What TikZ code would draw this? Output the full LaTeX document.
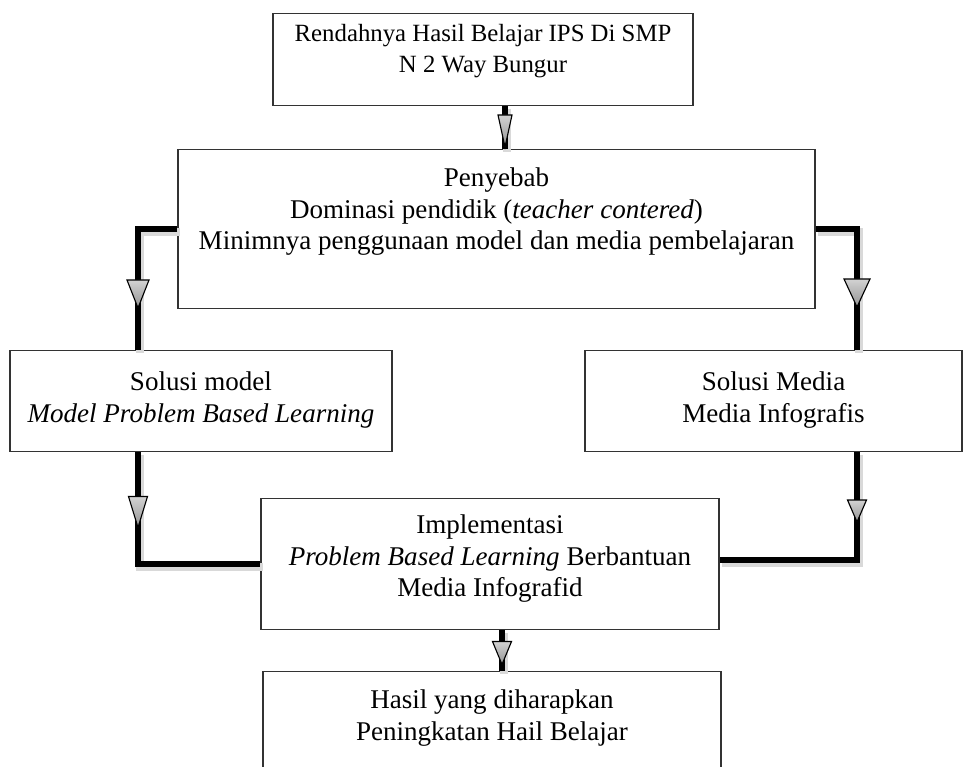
\documentclass[tikz,border=0pt]{standalone}
\usepackage{fontspec}
\setmainfont{Liberation Serif}
\newlength\px
\setlength\px{0.0156cm}
\newcommand\boxtext[4]{\parbox[t][#2\px][t]{#1\px}{\centering\vspace*{#3\px}\strut #4}}

\begin{document}
\begin{tikzpicture}[x=0.0156cm,y=-0.0156cm,font=\fontsize{12}{14}\selectfont,
  box/.style={draw=black!80,line width=0.6pt,inner sep=0pt,anchor=north},
  conn/.style={line width=2.6pt,black,
    preaction={draw=black!15,line width=3.6pt,transform canvas={shift={(1pt,-1.2pt)}}}},
  pics/headtri/.style 2 args={code={
    \draw[line width=0.5pt,top color=gray!35,bottom color=gray!85]
      (-#1/2,-#2/2) -- (#1/2,-#2/2) -- (0,#2/2) -- cycle;}}]
  \useasboundingbox (0,0) rectangle (968,767);
  \clip (0,0) rectangle (968,767);

  \node[box,font=\fontsize{11}{13.5}\selectfont] (b1) at (483,13) {\boxtext{420}{92}{7}{Rendahnya Hasil Belajar IPS Di SMP\\N 2 Way Bungur}};
  \node[box] (b2) at (496.5,149) {\boxtext{637}{159}{15}{Penyebab\\Dominasi pendidik (\textit{teacher contered})\\Minimnya penggunaan model dan media pembelajaran}};
  \node[box] (b3) at (201,350) {\boxtext{382}{101}{18}{Solusi model\\\textit{Model Problem Based Learning}}};
  \node[box] (b4) at (773.5,350) {\boxtext{377}{101}{18}{Solusi Media\\Media Infografis}};
  \node[box] (b5) at (490,498) {\boxtext{458}{131}{13}{Implementasi\\\textit{Problem Based Learning} Berbantuan\\Media Infografid}};
  \node[box] (b6) at (492,671) {\boxtext{458}{130}{15}{Hasil yang diharapkan\\Peningkatan Hail Belajar}};

  \coordinate (xa) at (505,0);
  \coordinate (xl) at (138,0);
  \coordinate (xr) at (857,0);
  \coordinate (xb) at (502,0);

  % connectors
  \draw[conn] (xa |- b1.south) -- (xa |- b2.north);
  \draw[conn] (b2.west) -| (xl |- b3.north);
  \draw[conn] (b2.east) -| (xr |- b4.north);
  \draw[conn] (xl |- b3.south) |- (b5.west);
  \draw[conn] (xr |- b4.south) |- (b5.1);
  \draw[conn] (xb |- b5.south) -- (xb |- b6.north);

  % heads
  \pic at (505,131) {headtri={14}{32}};
  \pic at (138,294) {headtri={22}{28}};
  \pic at (857,293) {headtri={26}{28}};
  \pic at (138,512) {headtri={19}{31}};
  \pic at (857,511) {headtri={19}{22}};
  \pic at (502,653) {headtri={19}{23}};
\end{tikzpicture}
\end{document}
